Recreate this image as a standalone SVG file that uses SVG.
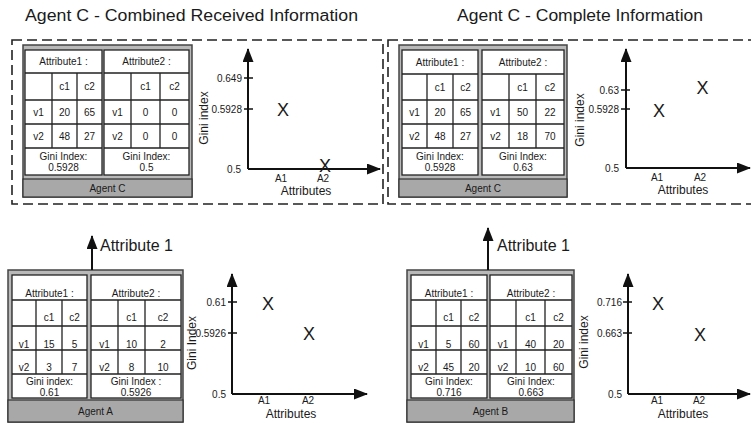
<svg xmlns="http://www.w3.org/2000/svg" width="751" height="423" viewBox="0 0 751 423">
<style>
text{font-family:"Liberation Sans",Arial,sans-serif;fill:#1a1a1a}
.frame{fill:#b9b9b9;stroke:#444;stroke-width:1.5}
.tbl{fill:#fff;stroke:#222;stroke-width:1.3}
.grid{fill:none;stroke:#222;stroke-width:1.3}
.bar{fill:#a8a8a8;stroke:#333;stroke-width:1.2}
.t{font-size:10px;text-anchor:middle}
.axis{fill:none;stroke:#111;stroke-width:2}
.tk{fill:none;stroke:#111;stroke-width:1.5}
.tl{font-size:10px;text-anchor:end}
.al{font-size:10px;text-anchor:middle}
.at{font-size:12px;text-anchor:middle}
.mk{font-size:18px;text-anchor:middle}
.dash{fill:none;stroke:#222;stroke-width:1.6;stroke-dasharray:10 5}
.title{font-size:16px}
.lbl{font-size:16px}
</style>
<defs>
<marker id="ah" markerUnits="userSpaceOnUse" markerWidth="14" markerHeight="11" refX="13" refY="5.5" orient="auto">
<path d="M0,0 L14,5.5 L0,11 z" fill="#111"/>
</marker>
</defs>

<g id="titles">
<text class="title" x="25" y="21" textLength="333" lengthAdjust="spacingAndGlyphs">Agent C - Combined Received Information</text>
<text class="title" x="457" y="21" textLength="246" lengthAdjust="spacingAndGlyphs">Agent C - Complete Information</text>
</g>

<g id="panel-combined">
<rect class="dash" x="12" y="40" width="371" height="164"/>
</g>
<g id="panel-complete">
<rect class="dash" x="388" y="40" width="372" height="164"/>
</g>

<!-- Agent C combined -->
<g id="agentC-combined">
<rect class="frame" x="23" y="45" width="169" height="152"/>
<rect class="tbl" x="25" y="50" width="77" height="125"/>
<path class="grid" d="M25,73H102M25,100H102M25,124H102M25,148H102M52,73V148M77,73V148"/>
<rect class="tbl" x="104" y="50" width="85" height="125"/>
<path class="grid" d="M104,73H189M104,100H189M104,124H189M104,148H189M131,73V148M160,73V148"/>
<rect class="bar" x="23" y="179" width="169" height="18"/>
<text class="t" x="63.5" y="65">Attribute1 :</text>
<text class="t" x="64.5" y="90">c1</text><text class="t" x="89.5" y="90">c2</text>
<text class="t" x="38.5" y="115.5">v1</text><text class="t" x="64.5" y="115.5">20</text><text class="t" x="89.5" y="115.5">65</text>
<text class="t" x="38.5" y="139.5">v2</text><text class="t" x="64.5" y="139.5">48</text><text class="t" x="89.5" y="139.5">27</text>
<text class="t" x="63.5" y="159.5">Gini Index:</text><text class="t" x="63.5" y="171">0.5928</text>
<text class="t" x="146.5" y="65">Attribute2 :</text>
<text class="t" x="145.5" y="90">c1</text><text class="t" x="174.5" y="90">c2</text>
<text class="t" x="117.5" y="115.5">v1</text><text class="t" x="145.5" y="115.5">0</text><text class="t" x="174.5" y="115.5">0</text>
<text class="t" x="117.5" y="139.5">v2</text><text class="t" x="145.5" y="139.5">0</text><text class="t" x="174.5" y="139.5">0</text>
<text class="t" x="146.5" y="159.5">Gini Index:</text><text class="t" x="146.5" y="171">0.5</text>
<text class="t" x="107.5" y="192">Agent C</text>
</g>

<g id="chart-combined">
<path class="axis" d="M248,169V49" marker-end="url(#ah)"/>
<path class="axis" d="M248,169H380" marker-end="url(#ah)"/>
<path class="tk" d="M244,78H253M244,109H253"/>
<text class="tl" x="242" y="81.5">0.649</text>
<text class="tl" x="242" y="112.5">0.5928</text>
<text class="tl" x="241" y="172.5">0.5</text>
<text class="mk" x="283" y="116">X</text>
<text class="mk" x="325" y="172">X</text>
<text class="al" x="281" y="182">A1</text>
<text class="al" x="323" y="182">A2</text>
<text class="at" x="306" y="195">Attributes</text>
<text class="at" transform="translate(208,118) rotate(-90)">Gini index</text>
</g>

<!-- Agent C complete -->
<g id="agentC-complete">
<rect class="frame" x="399" y="45" width="168" height="152"/>
<rect class="tbl" x="402" y="50" width="76" height="125"/>
<path class="grid" d="M402,74H478M402,100H478M402,124H478M402,148H478M427,74V148M453,74V148"/>
<rect class="tbl" x="482" y="50" width="82" height="125"/>
<path class="grid" d="M482,74H564M482,100H564M482,124H564M482,148H564M509,74V148M536,74V148"/>
<rect class="bar" x="399" y="179" width="168" height="18"/>
<text class="t" x="440" y="65.5">Attribute1 :</text>
<text class="t" x="440" y="90.5">c1</text><text class="t" x="465.5" y="90.5">c2</text>
<text class="t" x="414.5" y="115.5">v1</text><text class="t" x="440" y="115.5">20</text><text class="t" x="465.5" y="115.5">65</text>
<text class="t" x="414.5" y="139.5">v2</text><text class="t" x="440" y="139.5">48</text><text class="t" x="465.5" y="139.5">27</text>
<text class="t" x="440" y="159.5">Gini Index:</text><text class="t" x="440" y="171">0.5928</text>
<text class="t" x="523" y="65.5">Attribute2 :</text>
<text class="t" x="522.5" y="90.5">c1</text><text class="t" x="550" y="90.5">c2</text>
<text class="t" x="495.5" y="115.5">v1</text><text class="t" x="522.5" y="115.5">50</text><text class="t" x="550" y="115.5">22</text>
<text class="t" x="495.5" y="139.5">v2</text><text class="t" x="522.5" y="139.5">18</text><text class="t" x="550" y="139.5">70</text>
<text class="t" x="523" y="159.5">Gini Index:</text><text class="t" x="523" y="171">0.63</text>
<text class="t" x="483" y="192">Agent C</text>
</g>

<g id="chart-complete">
<path class="axis" d="M626,168V49" marker-end="url(#ah)"/>
<path class="axis" d="M626,168H750" marker-end="url(#ah)"/>
<path class="tk" d="M621,90H630M621,109H630"/>
<text class="tl" x="619" y="93.5">0.63</text>
<text class="tl" x="619" y="112.5">0.5928</text>
<text class="tl" x="619" y="171.5">0.5</text>
<text class="mk" x="659" y="116.5">X</text>
<text class="mk" x="702.5" y="94">X</text>
<text class="al" x="657" y="181">A1</text>
<text class="al" x="700" y="181">A2</text>
<text class="at" x="683" y="194">Attributes</text>
<text class="at" transform="translate(584,120) rotate(-90)">Gini index</text>
</g>

<!-- Agent A -->
<g id="agentA">
<rect class="frame" x="8" y="270" width="175" height="152"/>
<rect class="tbl" x="12" y="275" width="75" height="123"/>
<path class="grid" d="M12,300H87M12,326H87M12,350H87M12,374H87M36,300V374M62,300V374"/>
<rect class="tbl" x="91" y="275" width="90" height="123"/>
<path class="grid" d="M91,300H181M91,326H181M91,350H181M91,374H181M118,300V374M145,300V374"/>
<rect class="bar" x="8" y="400" width="175" height="22"/>
<text class="t" x="49.5" y="297">Attribute1 :</text>
<text class="t" x="49" y="321">c1</text><text class="t" x="74.5" y="321">c2</text>
<text class="t" x="24" y="348">v1</text><text class="t" x="49" y="348">15</text><text class="t" x="74.5" y="348">5</text>
<text class="t" x="24" y="371">v2</text><text class="t" x="49" y="371">3</text><text class="t" x="74.5" y="371">7</text>
<text class="t" x="49.5" y="384.5">Gini index:</text><text class="t" x="49.5" y="395.5">0.61</text>
<text class="t" x="136" y="297">Attribute2 :</text>
<text class="t" x="131.5" y="321">c1</text><text class="t" x="163" y="321">c2</text>
<text class="t" x="104.5" y="348">v1</text><text class="t" x="131.5" y="348">10</text><text class="t" x="163" y="348">2</text>
<text class="t" x="104.5" y="371">v2</text><text class="t" x="131.5" y="371">8</text><text class="t" x="163" y="371">10</text>
<text class="t" x="136" y="384.5">Gini Index :</text><text class="t" x="136" y="395.5">0.5926</text>
<text class="t" x="95.5" y="415">Agent A</text>
</g>

<g id="chartA">
<path class="axis" d="M232,394V274" marker-end="url(#ah)"/>
<path class="axis" d="M232,394H367" marker-end="url(#ah)"/>
<path class="tk" d="M228,302H237M228,333H237"/>
<text class="tl" x="226" y="305.5">0.61</text>
<text class="tl" x="226" y="336.5">0.5926</text>
<text class="tl" x="226" y="397.5">0.5</text>
<text class="mk" x="268" y="309.5">X</text>
<text class="mk" x="309" y="340">X</text>
<text class="al" x="264" y="404">A1</text>
<text class="al" x="308" y="404">A2</text>
<text class="at" x="291" y="418">Attributes</text>
<text class="at" transform="translate(196,343) rotate(-90)">Gini Index</text>
</g>

<!-- Agent B -->
<g id="agentB">
<rect class="frame" x="407" y="270" width="167" height="152"/>
<rect class="tbl" x="411" y="275" width="76" height="123"/>
<path class="grid" d="M411,300H487M411,326H487M411,350H487M411,374H487M436,300V374M461,300V374"/>
<rect class="tbl" x="490" y="275" width="82" height="123"/>
<path class="grid" d="M490,300H572M490,326H572M490,350H572M490,374H572M516,300V374M545,300V374"/>
<rect class="bar" x="407" y="400" width="167" height="22"/>
<text class="t" x="449" y="297">Attribute1 :</text>
<text class="t" x="448.5" y="321">c1</text><text class="t" x="474" y="321">c2</text>
<text class="t" x="423.5" y="348">v1</text><text class="t" x="448.5" y="348">5</text><text class="t" x="474" y="348">60</text>
<text class="t" x="423.5" y="371">v2</text><text class="t" x="448.5" y="371">45</text><text class="t" x="474" y="371">20</text>
<text class="t" x="449" y="384.5">Gini Index:</text><text class="t" x="449" y="395.5">0.716</text>
<text class="t" x="531" y="297">Attribute2 :</text>
<text class="t" x="530.5" y="321">c1</text><text class="t" x="558.5" y="321">c2</text>
<text class="t" x="503" y="348">v1</text><text class="t" x="530.5" y="348">40</text><text class="t" x="558.5" y="348">20</text>
<text class="t" x="503" y="371">v2</text><text class="t" x="530.5" y="371">10</text><text class="t" x="558.5" y="371">60</text>
<text class="t" x="531" y="384.5">Gini Index:</text><text class="t" x="531" y="395.5">0.663</text>
<text class="t" x="490.5" y="415">Agent B</text>
</g>

<g id="chartB">
<path class="axis" d="M628,394V274" marker-end="url(#ah)"/>
<path class="axis" d="M628,394H750" marker-end="url(#ah)"/>
<path class="tk" d="M623,302H632M623,333H632"/>
<text class="tl" x="622" y="305.5">0.716</text>
<text class="tl" x="622" y="336.5">0.663</text>
<text class="tl" x="622" y="397.5">0.5</text>
<text class="mk" x="658" y="310">X</text>
<text class="mk" x="700" y="341">X</text>
<text class="al" x="657" y="404">A1</text>
<text class="al" x="699" y="404">A2</text>
<text class="at" x="683" y="418">Attributes</text>
<text class="at" transform="translate(588,342) rotate(-90)">Gini index</text>
</g>

<g id="connectors">
<path class="axis" d="M92,270V236" marker-end="url(#ah)"/>
<text class="lbl" x="100" y="251">Attribute 1</text>
<path class="axis" d="M488,270V228" marker-end="url(#ah)"/>
<text class="lbl" x="497" y="251">Attribute 1</text>
</g>
</svg>
